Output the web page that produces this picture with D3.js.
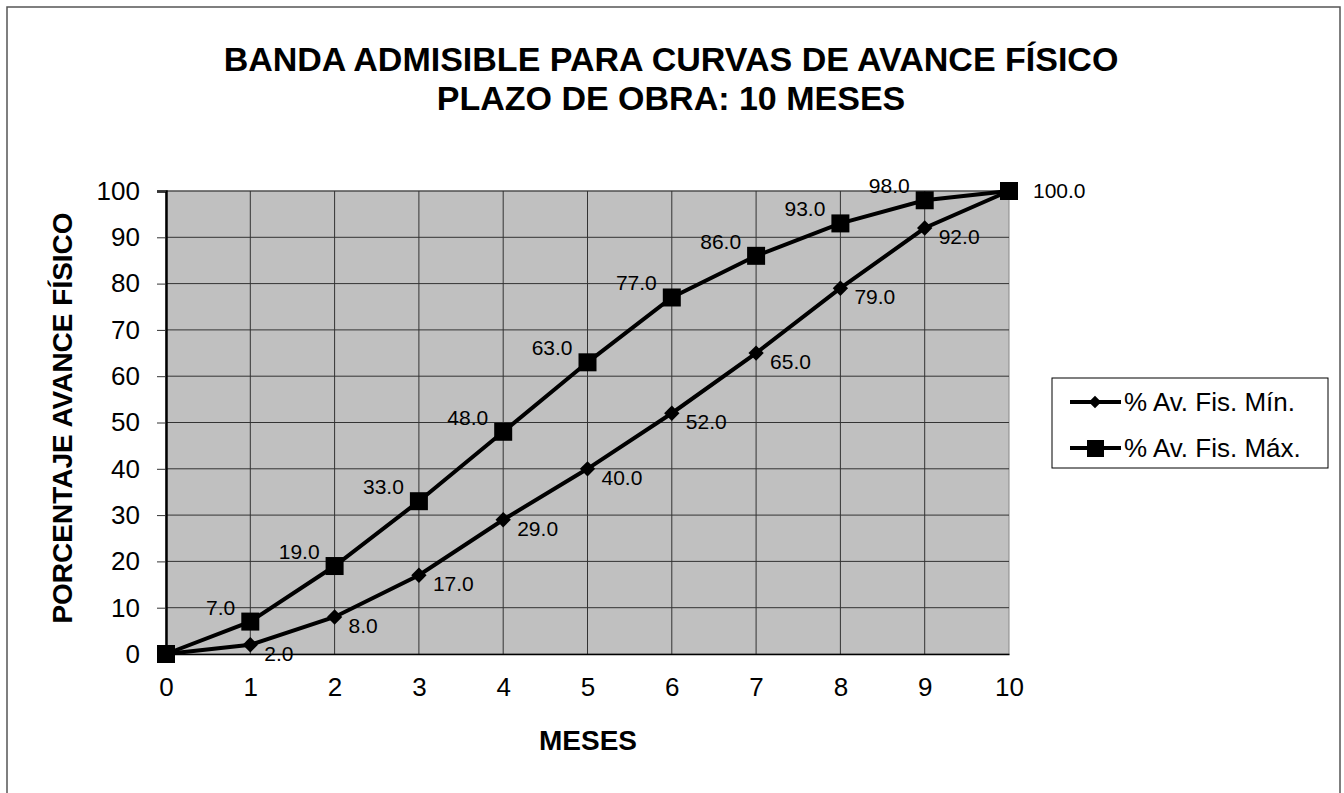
<!DOCTYPE html>
<html>
<head>
<meta charset="utf-8">
<script src="https://cdn.jsdelivr.net/npm/d3@7"></script>
<style>
body { margin: 0; background: #fff; }
svg { font-family: "Liberation Sans", Arial, sans-serif; }
</style>
</head>
<body>
<div id="chart"></div>
<script>
var meses = [0, 1, 2, 3, 4, 5, 6, 7, 8, 9, 10]
var avMin = [0, 2, 8, 17, 29, 40, 52, 65, 79, 92, 100]
var avMax = [0, 7, 19, 33, 48, 63, 77, 86, 93, 98, 100]
var yTicks = [0, 10, 20, 30, 40, 50, 60, 70, 80, 90, 100]
var seriesNames = ["% Av. Fis. Mín.", "% Av. Fis. Máx."]

width = 1344
height = 793

var svg = d3.select("#chart")
    .append("svg")
    .attr("width", width)
    .attr("height", height)

// outer frame
svg.append("rect")
    .attr("x", 7).attr("y", 7)
    .attr("width", 1333).attr("height", 800)
    .attr("fill", "#fff")
    .attr("stroke", "#555")
    .attr("stroke-width", 1.5)

var xScale = d3.scaleLinear().domain([0, 10]).range([166, 1009])
var yScale = d3.scaleLinear().domain([0, 100]).range([654, 191])

svg.append("rect")
    .attr("x", xScale(0)).attr("y", yScale(100))
    .attr("width", xScale(10) - xScale(0))
    .attr("height", yScale(0) - yScale(100))
    .attr("fill", "#c0c0c0")
    .attr("stroke", "#888")

// grid
svg.append("g")
    .selectAll("line")
    .data(yTicks.slice(1))
    .enter()
    .append("line")
    .attr("x1", xScale(0)).attr("x2", xScale(10))
    .attr("y1", d => yScale(d)).attr("y2", d => yScale(d))
    .attr("stroke", "#333").attr("stroke-width", 1)

svg.append("g")
    .selectAll("line")
    .data(meses.slice(1, 10))
    .enter()
    .append("line")
    .attr("y1", yScale(0)).attr("y2", yScale(100))
    .attr("x1", d => xScale(d)).attr("x2", d => xScale(d))
    .attr("stroke", "#333").attr("stroke-width", 1)

var axisX = d3.axisBottom(xScale).tickValues(meses).tickSize(0).tickPadding(24)
var axisY = d3.axisLeft(yScale).tickValues(yTicks).tickSize(9).tickPadding(17)

var gx = svg.append("g")
    .attr("transform", "translate(0," + yScale(0) + ")")
    .call(axisX)
gx.select(".domain").attr("stroke", "#000").attr("stroke-width", 1.5)
gx.selectAll("text").attr("font-size", 26).attr("fill", "#000")
    .attr("font-family", "Liberation Sans, Arial, sans-serif")

var gy = svg.append("g")
    .attr("transform", "translate(" + xScale(0) + ",0)")
    .call(axisY)
gy.select(".domain").attr("stroke", "#000").attr("stroke-width", 2.5)
gy.selectAll(".tick line").attr("stroke", "#333")
gy.selectAll("text").attr("font-size", 26).attr("fill", "#000")
    .attr("font-family", "Liberation Sans, Arial, sans-serif")

var line = d3.line()
    .x((d, i) => xScale(meses[i]))
    .y(d => yScale(d))

svg.append("path").datum(avMin).attr("d", line)
    .attr("fill", "none").attr("stroke", "#000").attr("stroke-width", 4)
svg.append("path").datum(avMax).attr("d", line)
    .attr("fill", "none").attr("stroke", "#000").attr("stroke-width", 4)

var diamond = d3.symbol().type(d3.symbolDiamond2).size(150)
svg.append("g").selectAll("path")
    .data(avMin)
    .enter()
    .append("path")
    .attr("d", diamond)
    .attr("transform", (d, i) => "translate(" + xScale(meses[i]) + "," + yScale(d) + ")")
    .attr("fill", "#000")

svg.append("g").selectAll("rect")
    .data(avMax)
    .enter()
    .append("rect")
    .attr("x", (d, i) => xScale(meses[i]) - 9)
    .attr("y", d => yScale(d) - 9)
    .attr("width", 18).attr("height", 18)
    .attr("fill", "#000")

// data labels
svg.append("g").selectAll("text")
    .data(avMin.slice(1, 10))
    .enter()
    .append("text")
    .attr("x", (d, i) => xScale(meses[i + 1]) + 14)
    .attr("y", d => yScale(d) + 16)
    .attr("font-size", 21)
    .text(d => d.toFixed(1))

svg.append("g").selectAll("text")
    .data(avMax.slice(1, 10))
    .enter()
    .append("text")
    .attr("x", (d, i) => xScale(meses[i + 1]) - 15)
    .attr("y", d => yScale(d) - 7)
    .attr("text-anchor", "end")
    .attr("font-size", 21)
    .text(d => d.toFixed(1))

svg.append("text")
    .attr("x", xScale(10) + 24)
    .attr("y", yScale(avMax[10]) + 7)
    .attr("font-size", 21)
    .text(avMax[10].toFixed(1))

// titles
svg.append("text")
    .attr("x", 671).attr("y", 71)
    .attr("text-anchor", "middle")
    .attr("font-size", 34).attr("font-weight", "bold")
    .text("BANDA ADMISIBLE PARA CURVAS DE AVANCE FÍSICO")
svg.append("text")
    .attr("x", 671).attr("y", 110)
    .attr("text-anchor", "middle")
    .attr("font-size", 34).attr("font-weight", "bold")
    .text("PLAZO DE OBRA: 10 MESES")

svg.append("text")
    .attr("x", 588).attr("y", 750)
    .attr("text-anchor", "middle")
    .attr("font-size", 28).attr("font-weight", "bold")
    .text("MESES")

svg.append("text")
    .attr("transform", "translate(72,418) rotate(-90)")
    .attr("text-anchor", "middle")
    .attr("font-size", 28).attr("font-weight", "bold")
    .text("PORCENTAJE AVANCE FÍSICO")

// legend
var legend = svg.append("g")
legend.append("rect")
    .attr("x", 1052).attr("y", 378)
    .attr("width", 276).attr("height", 90)
    .attr("fill", "#fff").attr("stroke", "#000")

var legendY = [402, 448]
seriesNames.forEach(function (name, i) {
    legend.append("line")
        .attr("x1", 1070).attr("x2", 1121)
        .attr("y1", legendY[i]).attr("y2", legendY[i])
        .attr("stroke", "#000").attr("stroke-width", 4)
    if (i == 0) {
        legend.append("path")
            .attr("d", d3.symbol().type(d3.symbolDiamond2).size(100))
            .attr("transform", "translate(1095," + legendY[i] + ")")
            .attr("fill", "#000")
    } else {
        legend.append("rect")
            .attr("x", 1087).attr("y", legendY[i] - 8)
            .attr("width", 17).attr("height", 17)
            .attr("fill", "#000")
    }
    legend.append("text")
        .attr("x", 1124).attr("y", legendY[i] + 9)
        .attr("font-size", 26)
        .text(name)
})
</script>
</body>
</html>
